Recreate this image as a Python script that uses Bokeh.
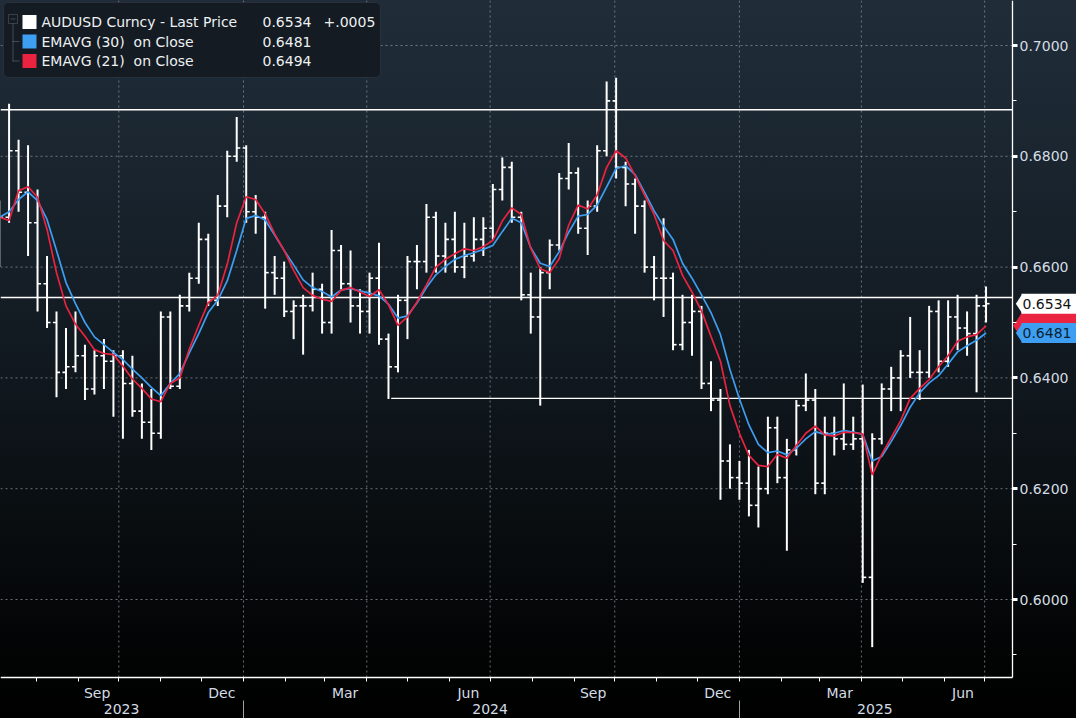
import pandas as pd
from bokeh.plotting import figure
from bokeh.models import (Range1d, LinearAxis, FixedTicker, Label,
                          BoxAnnotation, ColumnDataSource, NumeralTickFormatter)
from bokeh.core.properties import value
from bokeh.embed import file_html
from bokeh.resources import INLINE

# ---------------- data (weekly bars) ----------------
first_week = "2023-07-05"          # Wednesday of the first weekly bar
bar_open = [0.6670, 0.6690, 0.6810, 0.6735, 0.6680, 0.6570, 0.6500, 0.6410, 0.6420, 0.6440,
            0.6380, 0.6440, 0.6430, 0.6440, 0.6390, 0.6340, 0.6320, 0.6300, 0.6510, 0.6385,
            0.6530, 0.6580, 0.6650, 0.6540, 0.6710, 0.6800, 0.6815, 0.6700, 0.6690, 0.6590,
            0.6580, 0.6520, 0.6530, 0.6530, 0.6560, 0.6500, 0.6630, 0.6570, 0.6530, 0.6520,
            0.6580, 0.6470, 0.6420, 0.6540, 0.6610, 0.6610, 0.6690, 0.6620, 0.6650, 0.6600,
            0.6620, 0.6650, 0.6670, 0.6740, 0.6780, 0.6690, 0.6550, 0.6510, 0.6590, 0.6640,
            0.6760, 0.6770, 0.6670, 0.6710, 0.6810, 0.6900, 0.6780, 0.6750, 0.6710, 0.6600,
            0.6580, 0.6580, 0.6460, 0.6500, 0.6520, 0.6390, 0.6360, 0.6250, 0.6220, 0.6210,
            0.6170, 0.6200, 0.6310, 0.6220, 0.6270, 0.6350, 0.6360, 0.6210, 0.6300, 0.6290,
            0.6280, 0.6290, 0.6040, 0.6290, 0.6380, 0.6400, 0.6440, 0.6410, 0.6410, 0.6520,
            0.6430, 0.6510, 0.6490, 0.6480, 0.6530]
bar_high = [0.6720, 0.6895, 0.6830, 0.6820, 0.6740, 0.6620, 0.6520, 0.6490, 0.6520, 0.6460,
            0.6450, 0.6470, 0.6450, 0.6450, 0.6440, 0.6390, 0.6380, 0.6520, 0.6520, 0.6550,
            0.6590, 0.6680, 0.6660, 0.6730, 0.6810, 0.6871, 0.6820, 0.6730, 0.6700, 0.6620,
            0.6610, 0.6540, 0.6550, 0.6590, 0.6570, 0.6667, 0.6640, 0.6630, 0.6560, 0.6590,
            0.6644, 0.6480, 0.6550, 0.6620, 0.6640, 0.6714, 0.6700, 0.6680, 0.6700, 0.6680,
            0.6690, 0.6690, 0.6750, 0.6798, 0.6790, 0.6700, 0.6590, 0.6600, 0.6650, 0.6770,
            0.6824, 0.6780, 0.6720, 0.6820, 0.6935, 0.6942, 0.6790, 0.6760, 0.6720, 0.6620,
            0.6688, 0.6590, 0.6550, 0.6550, 0.6530, 0.6430, 0.6380, 0.6280, 0.6250, 0.6270,
            0.6240, 0.6330, 0.6330, 0.6290, 0.6360, 0.6408, 0.6380, 0.6330, 0.6330, 0.6390,
            0.6330, 0.6388, 0.6300, 0.6390, 0.6420, 0.6450, 0.6510, 0.6450, 0.6530, 0.6540,
            0.6540, 0.6550, 0.6520, 0.6550, 0.6565]
bar_low = [0.6600, 0.6680, 0.6700, 0.6620, 0.6520, 0.6490, 0.6365, 0.6380, 0.6410, 0.6360,
           0.6370, 0.6380, 0.6330, 0.6290, 0.6330, 0.6290, 0.6270, 0.6290, 0.6380, 0.6380,
           0.6520, 0.6570, 0.6530, 0.6530, 0.6690, 0.6790, 0.6680, 0.6660, 0.6525, 0.6550,
           0.6510, 0.6470, 0.6442, 0.6520, 0.6480, 0.6480, 0.6560, 0.6500, 0.6480, 0.6480,
           0.6460, 0.6362, 0.6410, 0.6470, 0.6560, 0.6590, 0.6590, 0.6590, 0.6590, 0.6580,
           0.6610, 0.6620, 0.6650, 0.6720, 0.6680, 0.6540, 0.6480, 0.6350, 0.6560, 0.6630,
           0.6740, 0.6660, 0.6622, 0.6700, 0.6800, 0.6760, 0.6710, 0.6660, 0.6590, 0.6540,
           0.6510, 0.6450, 0.6450, 0.6440, 0.6380, 0.6340, 0.6180, 0.6200, 0.6180, 0.6150,
           0.6130, 0.6190, 0.6210, 0.6088, 0.6260, 0.6340, 0.6190, 0.6190, 0.6260, 0.6270,
           0.6270, 0.6030, 0.5914, 0.6280, 0.6340, 0.6340, 0.6400, 0.6360, 0.6400, 0.6410,
           0.6420, 0.6450, 0.6440, 0.6374, 0.6500]
bar_close = [0.6690, 0.6810, 0.6735, 0.6680, 0.6570, 0.6500, 0.6410, 0.6420, 0.6440, 0.6380,
             0.6440, 0.6430, 0.6440, 0.6390, 0.6340, 0.6320, 0.6300, 0.6510, 0.6385, 0.6530,
             0.6580, 0.6650, 0.6540, 0.6710, 0.6800, 0.6815, 0.6700, 0.6690, 0.6590, 0.6580,
             0.6520, 0.6530, 0.6530, 0.6560, 0.6500, 0.6630, 0.6570, 0.6530, 0.6520, 0.6580,
             0.6470, 0.6420, 0.6540, 0.6610, 0.6610, 0.6690, 0.6620, 0.6650, 0.6600, 0.6620,
             0.6650, 0.6670, 0.6740, 0.6780, 0.6690, 0.6550, 0.6510, 0.6590, 0.6640, 0.6760,
             0.6770, 0.6670, 0.6710, 0.6810, 0.6900, 0.6780, 0.6750, 0.6710, 0.6600, 0.6580,
             0.6580, 0.6460, 0.6500, 0.6520, 0.6390, 0.6360, 0.6250, 0.6220, 0.6210, 0.6170,
             0.6200, 0.6310, 0.6220, 0.6270, 0.6350, 0.6360, 0.6210, 0.6300, 0.6290, 0.6280,
             0.6290, 0.6040, 0.6290, 0.6380, 0.6400, 0.6440, 0.6410, 0.6410, 0.6520, 0.6430,
             0.6510, 0.6490, 0.6480, 0.6530, 0.6534]
ema21 = [0.6690, 0.6684, 0.6738, 0.6745, 0.6726, 0.6668, 0.6590, 0.6530, 0.6497, 0.6475,
         0.6451, 0.6444, 0.6442, 0.6421, 0.6398, 0.6381, 0.6362, 0.6357, 0.6390, 0.6400,
         0.6452, 0.6495, 0.6536, 0.6549, 0.6605, 0.6680, 0.6727, 0.6722, 0.6696, 0.6660,
         0.6630, 0.6594, 0.6563, 0.6549, 0.6542, 0.6538, 0.6558, 0.6563, 0.6555, 0.6547,
         0.6559, 0.6532, 0.6495, 0.6510, 0.6537, 0.6568, 0.6600, 0.6614, 0.6624, 0.6633,
         0.6630, 0.6637, 0.6648, 0.6683, 0.6707, 0.6695, 0.6634, 0.6597, 0.6590, 0.6615,
         0.6676, 0.6712, 0.6705, 0.6730, 0.6780, 0.6810, 0.6797, 0.6765, 0.6730, 0.6695,
         0.6648, 0.6630, 0.6585, 0.6555, 0.6521, 0.6475, 0.6430, 0.6350, 0.6300, 0.6260,
         0.6242, 0.6240, 0.6262, 0.6255, 0.6278, 0.6300, 0.6313, 0.6297, 0.6295, 0.6302,
         0.6301, 0.6299, 0.6225, 0.6262, 0.6292, 0.6323, 0.6363, 0.6381, 0.6397, 0.6420,
         0.6440, 0.6466, 0.6474, 0.6478, 0.6494]
ema30 = [0.6690, 0.6700, 0.6722, 0.6736, 0.6720, 0.6686, 0.6630, 0.6572, 0.6534, 0.6500,
         0.6474, 0.6460, 0.6446, 0.6433, 0.6416, 0.6400, 0.6383, 0.6368, 0.6390, 0.6408,
         0.6445, 0.6480, 0.6518, 0.6540, 0.6575, 0.6630, 0.6688, 0.6693, 0.6685, 0.6658,
         0.6630, 0.6604, 0.6577, 0.6563, 0.6556, 0.6546, 0.6559, 0.6561, 0.6557, 0.6553,
         0.6548, 0.6533, 0.6508, 0.6512, 0.6535, 0.6563, 0.6586, 0.6601, 0.6614, 0.6621,
         0.6626, 0.6632, 0.6639, 0.6664, 0.6688, 0.6680, 0.6635, 0.6607, 0.6601, 0.6628,
         0.6663, 0.6692, 0.6695, 0.6712, 0.6745, 0.6778, 0.6783, 0.6767, 0.6735, 0.6702,
         0.6674, 0.6650, 0.6607, 0.6580, 0.6550, 0.6518, 0.6478, 0.6415, 0.6362, 0.6315,
         0.6280, 0.6265, 0.6268, 0.6261, 0.6273, 0.6290, 0.6303, 0.6298, 0.6300, 0.6305,
         0.6302, 0.6298, 0.6250, 0.6258, 0.6285, 0.6314, 0.6347, 0.6373, 0.6391, 0.6404,
         0.6425, 0.6447, 0.6458, 0.6468, 0.6481]

last_price = 0.6534
last_change = "+.0005"
ema30_last = 0.6481
ema21_last = 0.6494
resistance_levels = [0.6884, 0.6545]
support_level = 0.6363
support_from = "2024-04-19"

y_ticks = [0.60, 0.62, 0.64, 0.66, 0.68, 0.70]
y_minor = [0.59, 0.61, 0.63, 0.65, 0.67, 0.69]
month_labels = ["Sep", "Dec", "Mar", "Jun", "Sep", "Dec", "Mar", "Jun"]
month_label_dates = ["2023-09-15", "2023-12-16", "2024-03-16", "2024-06-15",
                     "2024-09-15", "2024-12-16", "2025-03-16", "2025-06-15"]
year_labels = ["2023", "2024", "2025"]
year_label_dates = ["2023-10-03", "2024-07-01", "2025-04-11"]
year_starts = ["2024-01-01", "2025-01-01"]
quarter_starts = ["2023-10-01", "2024-01-01", "2024-04-01", "2024-07-01",
                  "2024-10-01", "2025-01-01", "2025-04-01", "2025-07-01"]

# ---------------- layout helpers (pixel -> data) ----------------
DAY = 86400000


def ms(s):
    return int(pd.Timestamp(s).value // 1_000_000)


def X(px):                 # x pixel -> time (ms)
    return ms("2024-01-01") + (px - 243) / 1.355 * DAY


def Y(py):                 # y pixel -> price
    return 0.70 - (py - 45) / 5540.0


W, H = 1076, 718
EDGE = X(1012)             # right end of the price area (axis line)
AXIS_Y = Y(677)            # bottom axis line
FONT = "DejaVu Sans"
TXT = "#d3dce4"
GRID = "#8a939b"

weeks = pd.date_range(first_week, periods=len(bar_close), freq="7D")
xw = [ms(d) for d in weeks]
src = ColumnDataSource(dict(
    x=xw, xl=[v - 2.6 * DAY for v in xw], xr=[v + 2.6 * DAY for v in xw],
    o=bar_open, h=bar_high, l=bar_low, c=bar_close, e21=ema21, e30=ema30))

p = figure(width=W, height=H, output_backend="svg", toolbar_location=None,
           x_range=Range1d(X(0), X(W)), y_range=Range1d(Y(H), Y(0)),
           y_axis_location="right", min_border=0,
           styles={"background": "linear-gradient(180deg, #202d39 0%, #1a252f 22%, "
                                 "#121a21 48%, #080c0f 75%, #020303 92%, #000000 100%)"})
p.background_fill_color = None
p.border_fill_color = None
p.outline_line_color = None
p.xgrid.visible = False
p.ygrid.visible = False

# dashed grid (stops at the axes)
p.segment(x0=[X(0)] * len(y_ticks), y0=y_ticks, x1=[EDGE] * len(y_ticks), y1=y_ticks,
          line_color=GRID, line_alpha=0.75, line_dash="2 3", line_width=1)
qx = [ms(d) for d in quarter_starts]
p.segment(x0=qx, y0=[AXIS_Y] * len(qx), x1=qx, y1=[Y(0)] * len(qx),
          line_color=GRID, line_alpha=0.75, line_dash="2 3", line_width=1)

# y axis (right, drawn at the end of the price area)
ya = p.yaxis[0]
ya.fixed_location = EDGE
ya.bounds = (AXIS_Y, Y(0))
ya.ticker = FixedTicker(ticks=y_ticks, minor_ticks=y_minor)
ya.formatter = NumeralTickFormatter(format="0.0000")
ya.axis_line_color = "white"
ya.axis_line_width = 1.3
ya.major_tick_line_color = "white"
ya.major_tick_line_width = 3
ya.major_tick_out = 5
ya.major_tick_in = 0
ya.minor_tick_line_color = "white"
ya.minor_tick_out = 4
ya.minor_tick_in = 0
ya.major_label_standoff = 2
ya.major_label_text_font = FONT
ya.major_label_text_font_size = "14px"
ya.major_label_text_color = TXT

# x axis (months)
xa = p.below[0]
xa.fixed_location = AXIS_Y
xa.bounds = (X(0), EDGE)
mticks = [ms(d) for d in month_label_dates]
xa.ticker = FixedTicker(ticks=mticks,
                        minor_ticks=[ms(d) for d in pd.date_range("2023-08-01", "2025-07-01", freq="MS")])
xa.major_label_overrides = {t: lab for t, lab in zip(mticks, month_labels)}
xa.axis_line_color = "white"
xa.axis_line_width = 1.3
xa.major_tick_line_color = None
xa.major_tick_out = 0
xa.major_tick_in = 0
xa.minor_tick_line_color = "white"
xa.minor_tick_out = 4
xa.minor_tick_in = 0
xa.major_label_standoff = 3
xa.major_label_text_font = FONT
xa.major_label_text_font_size = "14px"
xa.major_label_text_color = TXT

# x axis (years)
yticks_ = [ms(d) for d in year_label_dates]
yr = LinearAxis(ticker=FixedTicker(ticks=yticks_, minor_ticks=[ms(d) for d in year_starts]),
                major_label_overrides={t: lab for t, lab in zip(yticks_, year_labels)},
                fixed_location=Y(700))
yr.axis_line_color = None
yr.major_tick_line_color = None
yr.major_tick_out = 0
yr.major_tick_in = 0
yr.minor_tick_line_color = "#9ba2a8"
yr.minor_tick_out = 18
yr.minor_tick_in = 0
yr.major_label_standoff = -15
yr.major_label_text_font = FONT
yr.major_label_text_font_size = "14px"
yr.major_label_text_color = TXT
p.add_layout(yr, "below")

# horizontal reference lines
p.segment(x0=[X(0)] * 2, y0=resistance_levels, x1=[EDGE] * 2, y1=resistance_levels,
          line_color="white", line_width=1.4)
p.segment(x0=[ms(support_from)], y0=[support_level], x1=[EDGE], y1=[support_level],
          line_color="white", line_width=1.4)

# price bars
BAR = "#ffffff"
p.segment(x0="x", y0="l", x1="x", y1="h", source=src, line_color=BAR, line_width=2)
p.segment(x0="xl", y0="o", x1="x", y1="o", source=src, line_color=BAR, line_width=1.6)
p.segment(x0="x", y0="c", x1="xr", y1="c", source=src, line_color=BAR, line_width=1.6)

# moving averages
BLUE, RED = "#3d9ef2", "#ea2340"
p.line("x", "e30", source=src, line_color=BLUE, line_width=1.7)
p.line("x", "e21", source=src, line_color=RED, line_width=1.7)

# last value tags on the right axis
tags = [(ema21_last, RED, None, None, 28),
        (last_price, "white", "%.4f" % last_price, "#111111", 20),
        (ema30_last, BLUE, "%.4f" % ema30_last, "#0c1e30", 20)]
for v, bg, txt, tc, hh in tags:
    p.rect(x=[X(1049)], y=[v], width=56, height=hh, width_units="screen",
           height_units="screen", fill_color=bg, line_color=None)
    p.scatter(x=[X(1022)], y=[v], marker="diamond", size=hh, fill_color=bg, line_color=None)
    if txt:
        p.text(x=[X(1022)], y=[v], text=[txt], text_font=value(FONT), text_font_size="14px",
               text_baseline="middle", text_align="left", text_color=tc)

# legend box
LG = "#8d949a"
p.add_layout(BoxAnnotation(left=X(3), right=X(380), top=Y(2), bottom=Y(77),
                           fill_color="#141b22", fill_alpha=1.0,
                           line_color="#48535d", line_width=1, border_radius=5))
# tree icon
p.add_layout(BoxAnnotation(left=X(8), right=X(17), top=Y(14), bottom=Y(23),
                           fill_color=None, line_color=LG, line_width=1))
p.add_layout(BoxAnnotation(left=X(10), right=X(15), top=Y(18), bottom=Y(19),
                           fill_color=LG, line_color=None))
p.add_layout(BoxAnnotation(left=X(12), right=X(13), top=Y(23), bottom=Y(61),
                           fill_color=LG, line_color=None))
for by in (41, 60.5):
    p.add_layout(BoxAnnotation(left=X(12), right=X(19), top=Y(by - 0.5), bottom=Y(by + 0.5),
                               fill_color=LG, line_color=None))

rows = [(21.5, "white", "AUDUSD Curncy - Last Price", "%.4f" % last_price, last_change),
        (41, BLUE, "EMAVG (30)\u00a0 on Close", "%.4f" % ema30_last, None),
        (60.5, RED, "EMAVG (21)\u00a0 on Close", "%.4f" % ema21_last, None)]
for cy, col, name, val, chg in rows:
    p.add_layout(BoxAnnotation(left=X(22), right=X(36), top=Y(cy - 7), bottom=Y(cy + 7),
                               fill_color=col, fill_alpha=1.0, line_color=None))
    p.add_layout(Label(x=X(41), y=Y(cy), text=name, text_baseline="middle",
                       text_font=FONT, text_font_size="14px", text_color="#eef1f3"))
    p.add_layout(Label(x=X(262), y=Y(cy), text=val, text_baseline="middle",
                       text_font=FONT, text_font_size="14px", text_color="#eef1f3"))
    if chg:
        p.add_layout(Label(x=X(323), y=Y(cy), text=chg, text_baseline="middle",
                           text_font=FONT, text_font_size="14px", text_color="#eef1f3"))

open("out.html", "w").write(file_html(p, INLINE))
